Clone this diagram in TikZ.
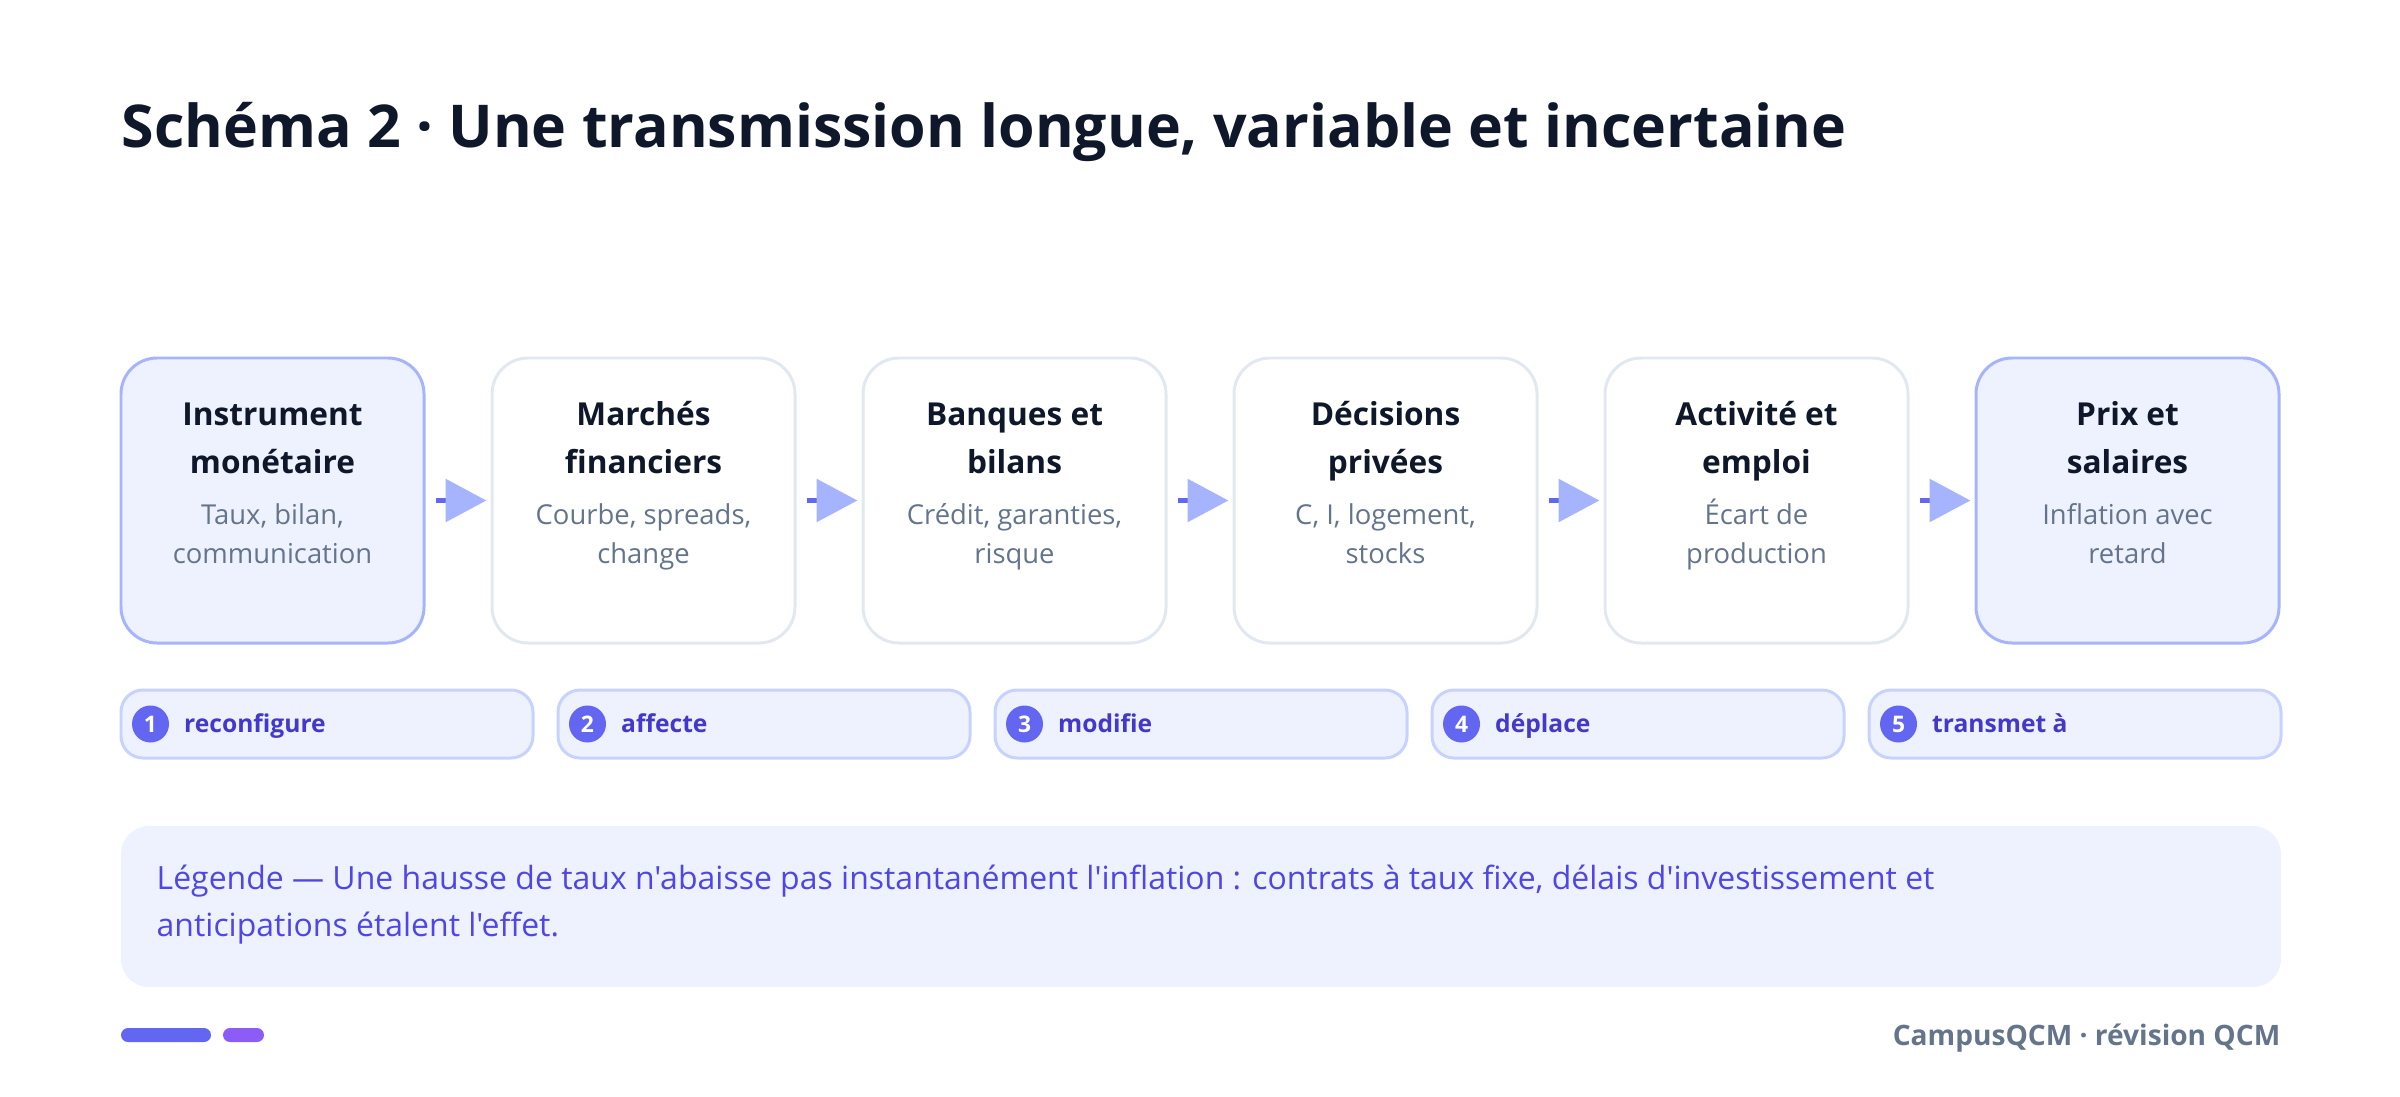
\documentclass[tikz,border=0pt]{standalone}
\usepackage[svgnames]{xcolor}
\usepackage{fontspec}
\setmainfont{Open Sans}[Ligatures=TeXOff]
\usepackage{tikz}
\usetikzlibrary{arrows.meta}

\definecolor{ink}{HTML}{0F172A}
\definecolor{slate}{HTML}{64748B}
\definecolor{edge}{HTML}{E2E8F0}
\definecolor{indigoA}{HTML}{EEF2FF}
\definecolor{indigoB}{HTML}{A5B4FC}
\definecolor{indigoP}{HTML}{C7D2FE}
\definecolor{indigoC}{HTML}{6366F1}
\definecolor{indigoD}{HTML}{4338CA}
\definecolor{indigoE}{HTML}{4F46E5}
\definecolor{violet}{HTML}{8B5CF6}

\begin{document}
\begin{tikzpicture}[
		box/.style={draw=edge, line width=0.85pt, fill=white, rounded corners=0.36cm, minimum width=3.03cm, minimum height=2.85cm, inner sep=0pt},
		keybox/.style={box, draw=indigoB, fill=indigoA},
		head/.style={anchor=base, align=center, inner sep=0pt, text=ink, font=\fontsize{9}{13.4}\selectfont\bfseries},
		sub/.style={anchor=base, align=center, inner sep=0pt, text=slate, font=\fontsize{7.8}{10.9}\selectfont},
		flow/.style={draw=indigoC, line width=1.7pt, shorten <=0.1cm, shorten >=0.04cm, -{Triangle[length=0.41cm,width=0.42cm,color=indigoB]}},
		pill/.style={draw=indigoP, line width=0.85pt, fill=indigoA, rounded corners=0.22cm, minimum width=4.12cm, minimum height=0.68cm, inner sep=0pt},
		num/.style={circle, fill=indigoC, minimum size=0.37cm, inner sep=0pt, text=white, font=\fontsize{6.5}{7}\selectfont\bfseries},
		verb/.style={anchor=base west, inner sep=0pt, text=indigoD, font=\fontsize{7}{9}\selectfont\bfseries}
	]
		\useasboundingbox (0,0) rectangle (24,10.96);

		% titre
		\node[anchor=base west, inner sep=0pt, text=ink, font=\fontsize{16.8}{20}\selectfont\bfseries] (title) at (1.21,9.48) {Schéma 2 · Une transmission longue, variable et incertaine};

		% chaîne de transmission
		\node[keybox] (b1) at (2.725,5.955) {};
		\node[box] (b2) at (6.435,5.955) {};
		\node[box] (b3) at (10.145,5.955) {};
		\node[box] (b4) at (13.855,5.955) {};
		\node[box] (b5) at (17.565,5.955) {};
		\node[keybox] (b6) at (21.275,5.955) {};

		\node[head] (h1) at (2.725,6.23) {Instrument\\monétaire};
		\node[head] (h2) at (6.435,6.23) {Marchés\\financiers};
		\node[head] (h3) at (10.145,6.23) {Banques et\\bilans};
		\node[head] (h4) at (13.855,6.23) {Décisions\\privées};
		\node[head] (h5) at (17.565,6.23) {Activité et\\emploi};
		\node[head] (h6) at (21.275,6.23) {Prix et\\salaires};

		\node[sub] (s1) at (2.725,5.33) {Taux, bilan,\\communication};
		\node[sub] (s2) at (6.435,5.33) {Courbe, spreads,\\change};
		\node[sub] (s3) at (10.145,5.33) {Crédit, garanties,\\risque};
		\node[sub] (s4) at (13.855,5.33) {C, I, logement,\\stocks};
		\node[sub] (s5) at (17.565,5.33) {Écart de\\production};
		\node[sub] (s6) at (21.275,5.33) {Inflation avec\\retard};

		\draw[flow] (b1) -- (b2);
		\draw[flow] (b2) -- (b3);
		\draw[flow] (b3) -- (b4);
		\draw[flow] (b4) -- (b5);
		\draw[flow] (b5) -- (b6);

		% étapes
		\node[pill] (p1) at (3.27,3.72) {};
		\node[pill] (p2) at (7.64,3.72) {};
		\node[pill] (p3) at (12.01,3.72) {};
		\node[pill] (p4) at (16.38,3.72) {};
		\node[pill] (p5) at (20.75,3.72) {};

		\node[num] (n1) at ([xshift=0.31cm]p1.west) {1};
		\node[num] (n2) at ([xshift=0.31cm]p2.west) {2};
		\node[num] (n3) at ([xshift=0.31cm]p3.west) {3};
		\node[num] (n4) at ([xshift=0.31cm]p4.west) {4};
		\node[num] (n5) at ([xshift=0.31cm]p5.west) {5};

		\node[verb] (v1) at ([xshift=0.64cm,yshift=-0.085cm]p1.west) {reconfigure};
		\node[verb] (v2) at ([xshift=0.64cm,yshift=-0.085cm]p2.west) {affecte};
		\node[verb] (v3) at ([xshift=0.64cm,yshift=-0.085cm]p3.west) {modifie};
		\node[verb] (v4) at ([xshift=0.64cm,yshift=-0.085cm]p4.west) {déplace};
		\node[verb] (v5) at ([xshift=0.64cm,yshift=-0.085cm]p5.west) {transmet à};

		% légende
		\node[fill=indigoA, rounded corners=0.28cm, minimum width=21.6cm, minimum height=1.61cm, inner sep=0pt] (leg) at (12.01,1.895) {};
		\node[anchor=base west, align=left, inner sep=0pt, text=indigoE, font=\fontsize{9.1}{13.1}\selectfont] (legtext) at (1.56,1.60) {Légende — Une hausse de taux n'abaisse pas instantanément l'inflation : contrats à taux fixe, délais d'investissement et\\anticipations étalent l'effet.};

		% pied de page
		\fill[indigoC, rounded corners=0.07cm] (1.21,0.54) rectangle (2.11,0.68);
		\fill[violet, rounded corners=0.07cm] (2.23,0.54) rectangle (2.64,0.68);
		\node[anchor=base east, inner sep=0pt, text=slate, font=\fontsize{8}{10}\selectfont\bfseries] (foot) at (22.81,0.51) {CampusQCM · révision QCM};
	\end{tikzpicture}
\end{document}
